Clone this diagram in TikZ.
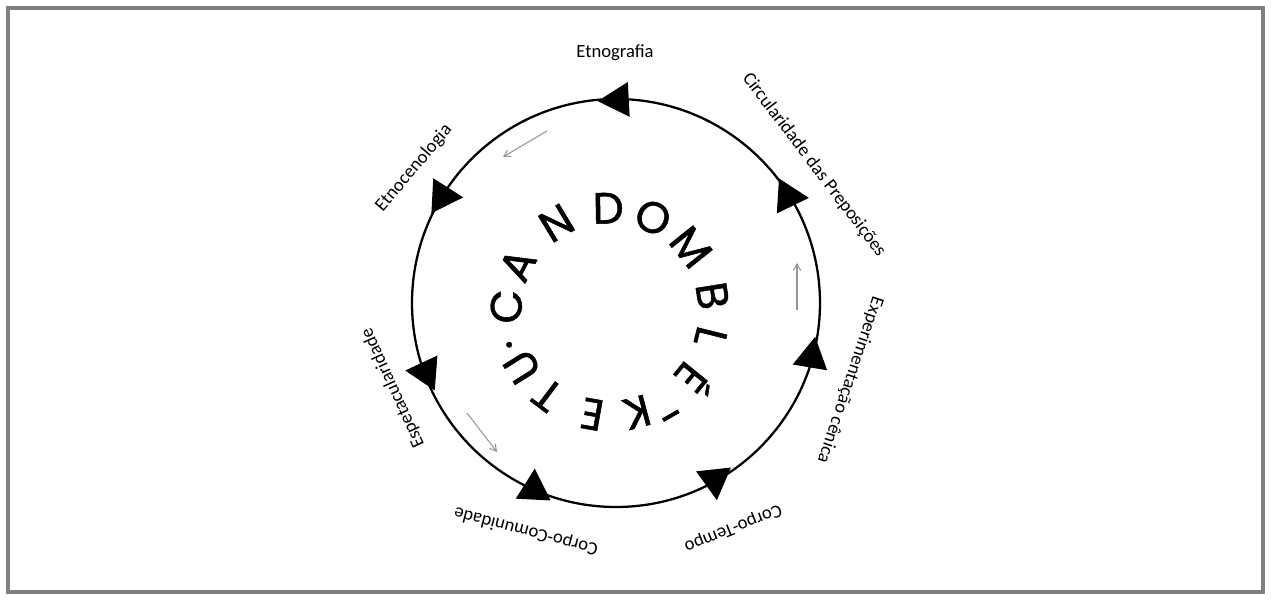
\documentclass[tikz,border=0pt]{standalone}
\usepackage{fontspec}
\setmainfont{Carlito}
\newfontfamily\ringfont[FakeBold=1.2]{Poppins}
\usetikzlibrary{positioning, arrows}
\definecolor{framegray}{RGB}{128,128,128}
\definecolor{hintgray}{RGB}{150,150,150}
\newcommand{\stagelabel}[4]{\node[rotate=#4] (#1) at (#3) {#2};}
\newcommand{\flowtip}[3]{\coordinate (#1) at (#2:203);
\fill[shift={(#1)}, rotate=#3] (20,0) -- (-11,17.5) -- (-11,-17.5) -- cycle;}
\newcommand{\ringletter}[5]{\node[#5, rotate=#3-90] (#1) at ([shift={(#3:#4)}]ring) {#2};}

\begin{document}
\begin{tikzpicture}[x=0.02cm, y=0.02cm,
  every node/.style={font=\fontsize{10.6pt}{12pt}\selectfont, inner sep=1pt},
  ring mark/.style={font=\ringfont\fontsize{25pt}{28pt}\selectfont, inner sep=0pt},
  ring letter/.style={ring mark, text height=0.62cm, text depth=0pt},
  hint/.style={->, >=angle 60, draw=hintgray, line width=0.6pt}]

\useasboundingbox (-616,303) rectangle (655,-296);
\draw[framegray, line width=0.07cm] (-608,295) rectangle (647,-289);

\coordinate (hub) at (0,0);
\draw[line width=1.3pt] (hub) circle (204);

% black tips along the ring
\flowtip{t1}{89.5}{183};
\flowtip{t2}{148.3}{-3};
\flowtip{t3}{199.9}{175.5};
\flowtip{t4}{246.1}{87};
\flowtip{t5}{299.1}{-83.7};
\flowtip{t6}{344.7}{80.4};
\flowtip{t7}{31.6}{-3.6};

\stagelabel{etnografia}{Etnografia}{-1,250}{0};
\stagelabel{circularidade}{Circularidade das Preposições}{198,138}{-52.7};
\stagelabel{experimentacao}{Experimentação cênica}{234,-77}{-108.6};
\stagelabel{corpotempo}{Corpo-Tempo}{117,-225}{201.7};
\stagelabel{corpocomunidade}{Corpo-Comunidade}{-90,-228}{165.4};
\stagelabel{espetacularidade}{Espetacularidade}{-223,-85}{114.4};
\stagelabel{etnocenologia}{Etnocenologia}{-202,135}{49.7};

% grey hints for the sense of turn
\coordinate (h1a) at (-69,172);
\coordinate (h1b) at (-113,146);
\coordinate (h2a) at (181,-7);
\coordinate (h2b) at (181,40);
\coordinate (h3a) at (-149,-110);
\coordinate (h3b) at (-119,-149);
\draw[hint] (h1a) -- (h1b);
\draw[hint] (h2a) -- (h2b);
\draw[hint] (h3a) -- (h3b);

\coordinate (ring) at (-6,-9);
\ringletter{lc}{C}{177}{104}{ring letter};
\ringletter{la}{A}{153}{104}{ring letter};
\ringletter{ln}{N}{121}{104}{ring letter};
\ringletter{ld}{D}{91}{104}{ring letter};
\ringletter{lo}{O}{65.5}{104}{ring letter};
\ringletter{lm}{M}{38.7}{104}{ring letter};
\ringletter{lb}{B}{9}{104}{ring letter};
\ringletter{ll}{L}{-14}{104}{ring letter};
\ringletter{leacute}{É}{-39}{104}{ring letter};
\ringletter{lhyphen}{-}{-60}{113}{ring mark};
\ringletter{lk}{K}{-75}{104}{ring letter};
\ringletter{le}{E}{-100}{104}{ring letter};
\ringletter{lt}{T}{-127}{104}{ring letter};
\ringletter{lu}{U}{-148}{104}{ring letter};
\ringletter{ldot}{.}{-162}{106}{ring mark};
\end{tikzpicture}
\end{document}
